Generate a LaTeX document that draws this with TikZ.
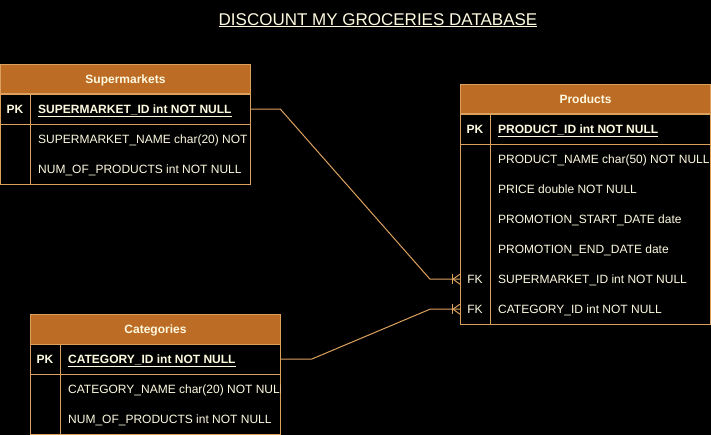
\documentclass[tikz,border=0pt]{standalone}
\usepackage{fontspec}
\setmainfont{Liberation Sans}
\definecolor{hdrfill}{HTML}{BC6C25}
\definecolor{edge}{HTML}{DDA15E}
\definecolor{txt}{HTML}{FEFAE0}
\newcommand{\fnt}{\fontsize{12}{14}\selectfont}
\begin{document}
\begin{tikzpicture}[x=1pt,y=-1pt,
  hdr/.style={draw=edge, fill=hdrfill, text=txt, font=\fnt\bfseries, inner sep=0, anchor=north west, minimum height=30pt, line width=1pt, text height=8.6pt, text depth=0pt},
  rowbox/.style={inner sep=0, anchor=north west, minimum height=30pt},
  keytxt/.style={text=txt, font=\fnt\bfseries, inner sep=0, text height=8.6pt, text depth=0pt},
  fktxt/.style={keytxt, font=\fnt},
  fld/.style={text=txt, font=\fnt, inner sep=0, anchor=base west, yshift=-4.3pt},
  pkfld/.style={fld, font=\fnt\bfseries},
  frame/.style={draw=edge, line width=1pt},
  conn/.style={draw=edge, line width=1pt}]
\fill[black] (0,0) rectangle (711,435);
\useasboundingbox (0,0) rectangle (711,435);

\node[text=txt, font=\fontsize{17}{20}\selectfont, inner sep=0, anchor=base, yshift=-6.1pt] (title) at (378,19) {\underline{DISCOUNT MY GROCERIES DATABASE}};

% ---------- Supermarkets ----------
\node[hdr, minimum width=250pt] (smh) at (0,64) {Supermarkets};
\node[rowbox, minimum width=250pt] (smid) at (0,94) {};
\node[rowbox, minimum width=250pt] (smname) at (0,124) {};
\node[rowbox, minimum width=250pt] (smnum) at (0,154) {};
\draw[frame] (smid.north west) rectangle (smnum.south east);
\draw[frame] (smid.south west) -- (smid.south east);
\draw[frame] ([xshift=30pt]smid.north west) -- ([xshift=30pt]smnum.south west);
\node[keytxt] (smpk) at ([xshift=15pt]smid.west) {PK};
\begin{scope}
\clip (smid.north west) rectangle (smnum.south east);
\node[pkfld] (smidt) at ([xshift=38pt]smid.west) {\underline{SUPERMARKET\_ID int NOT NULL}};
\node[fld] (smnamet) at ([xshift=38pt]smname.west) {SUPERMARKET\_NAME char(20) NOT NULL};
\node[fld] (smnumt) at ([xshift=38pt]smnum.west) {NUM\_OF\_PRODUCTS int NOT NULL};
\end{scope}

% ---------- Products ----------
\node[hdr, minimum width=250pt] (prh) at (460,84) {Products};
\node[rowbox, minimum width=250pt] (prid) at (460,114) {};
\node[rowbox, minimum width=250pt] (prname) at (460,144) {};
\node[rowbox, minimum width=250pt] (prprice) at (460,174) {};
\node[rowbox, minimum width=250pt] (prstart) at (460,204) {};
\node[rowbox, minimum width=250pt] (prend) at (460,234) {};
\node[rowbox, minimum width=250pt] (prsid) at (460,264) {};
\node[rowbox, minimum width=250pt] (prcid) at (460,294) {};
\draw[frame] (prid.north west) rectangle (prcid.south east);
\draw[frame] (prid.south west) -- (prid.south east);
\draw[frame] ([xshift=30pt]prid.north west) -- ([xshift=30pt]prcid.south west);
\node[keytxt] (prpk) at ([xshift=15pt]prid.west) {PK};
\node[fktxt] (prfk1) at ([xshift=15pt]prsid.west) {FK};
\node[fktxt] (prfk2) at ([xshift=15pt]prcid.west) {FK};
\begin{scope}
\clip (prid.north west) rectangle (prcid.south east);
\node[pkfld] (pridt) at ([xshift=38pt]prid.west) {\underline{PRODUCT\_ID int NOT NULL}};
\node[fld] (prnamet) at ([xshift=38pt]prname.west) {PRODUCT\_NAME char(50) NOT NULL};
\node[fld] (prpricet) at ([xshift=38pt]prprice.west) {PRICE double NOT NULL};
\node[fld] (prstartt) at ([xshift=38pt]prstart.west) {PROMOTION\_START\_DATE date};
\node[fld] (prendt) at ([xshift=38pt]prend.west) {PROMOTION\_END\_DATE date};
\node[fld] (prsidt) at ([xshift=38pt]prsid.west) {SUPERMARKET\_ID int NOT NULL};
\node[fld] (prcidt) at ([xshift=38pt]prcid.west) {CATEGORY\_ID int NOT NULL};
\end{scope}

% ---------- Categories ----------
\node[hdr, minimum width=250pt] (cah) at (30,314) {Categories};
\node[rowbox, minimum width=250pt] (caid) at (30,344) {};
\node[rowbox, minimum width=250pt] (caname) at (30,374) {};
\node[rowbox, minimum width=250pt] (canum) at (30,404) {};
\draw[frame] (caid.north west) rectangle (canum.south east);
\draw[frame] (caid.south west) -- (caid.south east);
\draw[frame] ([xshift=30pt]caid.north west) -- ([xshift=30pt]canum.south west);
\node[keytxt] (capk) at ([xshift=15pt]caid.west) {PK};
\begin{scope}
\clip (caid.north west) rectangle (canum.south east);
\node[pkfld] (caidt) at ([xshift=38pt]caid.west) {\underline{CATEGORY\_ID int NOT NULL}};
\node[fld] (canamet) at ([xshift=38pt]caname.west) {CATEGORY\_NAME char(20) NOT NULL};
\node[fld] (canumt) at ([xshift=38pt]canum.west) {NUM\_OF\_PRODUCTS int NOT NULL};
\end{scope}

% ---------- Connectors ----------
\draw[conn] (smid.east) -- ([xshift=30pt]smid.east) -- ([xshift=-30pt]prsid.west) -- (prsid.west);
\draw[conn] (caid.east) -- ([xshift=31pt]caid.east) -- ([xshift=-30pt]prcid.west) -- (prcid.west);
\foreach \r in {prsid,prcid}{
  \draw[conn] ([xshift=-8pt,yshift=5pt]\r.west) -- ([xshift=-8pt,yshift=-5pt]\r.west);
  \draw[conn] ([yshift=5pt]\r.west) -- ([xshift=-7pt]\r.west) -- ([yshift=-5pt]\r.west);
}
\end{tikzpicture}
\end{document}
